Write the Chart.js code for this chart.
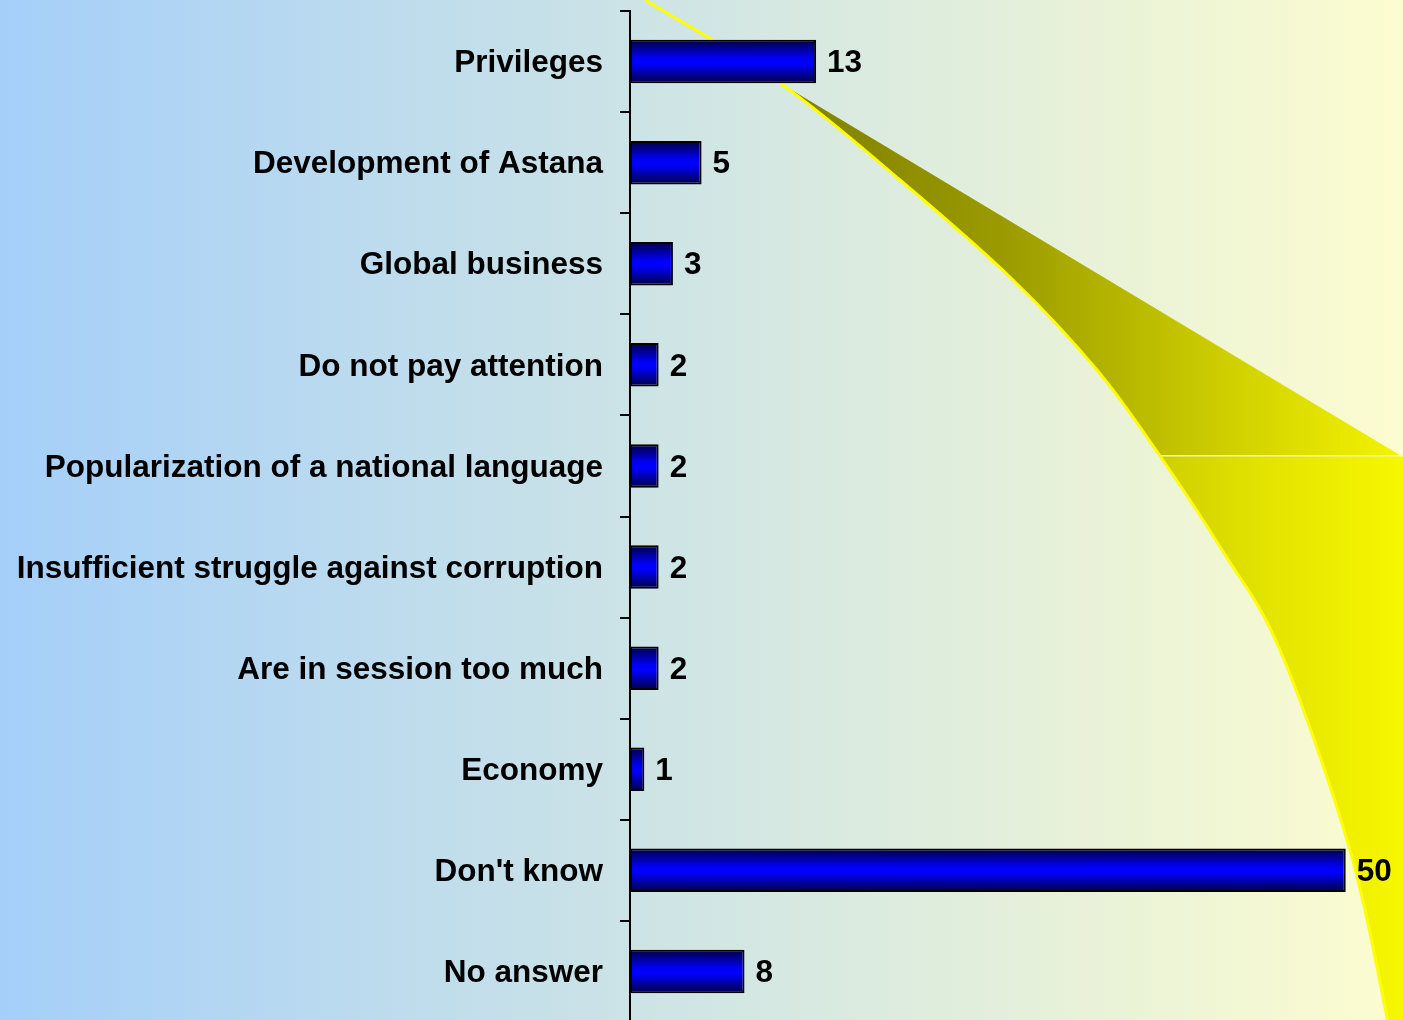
<!DOCTYPE html>
<html>
<head>
<meta charset="utf-8">
<script src="https://cdn.jsdelivr.net/npm/chart.js@4/dist/chart.umd.min.js"></script>
<style>
  html, body { margin: 0; padding: 0; overflow: hidden; background: #d0e4e8; }
  canvas { display: block; }
</style>
</head>
<body>
<canvas id="myChart" width="1403" height="1022"></canvas>
<script>
const categories = [
  "Privileges",
  "Development of Astana",
  "Global business",
  "Do not pay attention",
  "Popularization of a national language",
  "Insufficient struggle against corruption",
  "Are in session too much",
  "Economy",
  "Don't know",
  "No answer",
];
const answers = [13, 5, 3, 2, 2, 2, 2, 1, 50, 8];

const FONT = "'Liberation Sans', Arial, Helvetica, sans-serif";
const BAR_HALF = 21;

// smooth curve through points (catmull-rom -> bezier)
function curveThrough(ctx, pts) {
  ctx.lineTo(pts[0][0], pts[0][1]);
  for (let i = 0; i < pts.length - 1; i++) {
    const p0 = pts[i - 1] || pts[i];
    const p1 = pts[i];
    const p2 = pts[i + 1];
    const p3 = pts[i + 2] || p2;
    ctx.bezierCurveTo(
      p1[0] + (p2[0] - p0[0]) / 6, p1[1] + (p2[1] - p0[1]) / 6,
      p2[0] - (p3[0] - p1[0]) / 6, p2[1] - (p3[1] - p1[1]) / 6,
      p2[0], p2[1]
    );
  }
}

// background + decorative yellow ribbon
const backdrop = {
  id: "backdrop",
  beforeDraw(chart) {
    const ctx = chart.ctx;
    const w = chart.width, h = chart.height;
    ctx.save();
    const bg = ctx.createLinearGradient(0, 0, w, 0);
    bg.addColorStop(0, "#a5cff9");
    bg.addColorStop(1, "#fcfccf");
    ctx.fillStyle = bg;
    ctx.fillRect(0, 0, w, h);

    const edge = [[645, 0], [780, 83], [900, 180], [1013, 280], [1097, 370],
      [1160, 456], [1222, 550], [1280, 650], [1350, 850], [1388, 1022]];
    const split = 456;

    ctx.beginPath();
    ctx.moveTo(645, 0);
    curveThrough(ctx, edge);
    ctx.lineTo(w, h);
    ctx.lineTo(w, 457);
    ctx.lineTo(780, 83);
    ctx.closePath();
    ctx.clip();

    const top = ctx.createLinearGradient(780, 0, w, 0);
    top.addColorStop(0, "#7e7e00");
    top.addColorStop((1000 - 780) / (w - 780), "#9a9a00");
    top.addColorStop((1250 - 780) / (w - 780), "#d4d400");
    top.addColorStop(1, "#f4f400");
    ctx.fillStyle = top;
    ctx.fillRect(0, 0, w, split);

    const low = ctx.createLinearGradient(1160, 0, w, 0);
    low.addColorStop(0, "#cfcf00");
    low.addColorStop(0.4, "#e2e200");
    low.addColorStop(1, "#f7f700");
    ctx.fillStyle = low;
    ctx.fillRect(0, split, w, h - split);

    ctx.fillStyle = "#f4f4c8";
    ctx.fillRect(0, split - 1, w, 1.5);
    ctx.restore();

    ctx.save();
    ctx.beginPath();
    ctx.moveTo(645, 0);
    curveThrough(ctx, edge);
    ctx.strokeStyle = "#ffff00";
    ctx.lineWidth = 3;
    ctx.stroke();
    ctx.restore();
  },
};

// value labels at the end of bars
const valueLabels = {
  id: "valueLabels",
  afterDatasetsDraw(chart) {
    const ctx = chart.ctx;
    const meta = chart.getDatasetMeta(0);
    ctx.save();
    ctx.font = "bold 31.5px " + FONT;
    ctx.fillStyle = "#000";
    ctx.textAlign = "left";
    ctx.textBaseline = "middle";
    meta.data.forEach((bar, i) => {
      ctx.fillText(String(answers[i]), bar.x + 11, bar.y + 2);
    });
    ctx.restore();
  },
};

function barFill(context) {
  const chart = context.chart;
  const y = chart.scales.y;
  const yc = y ? y.getPixelForValue(context.dataIndex) : NaN;
  if (!isFinite(yc)) return "#0000ff";
  const g = chart.ctx.createLinearGradient(0, yc - BAR_HALF, 0, yc + BAR_HALF);
  g.addColorStop(0, "#00004a");
  g.addColorStop(0.42, "#0000f5");
  g.addColorStop(0.55, "#0000ff");
  g.addColorStop(1, "#00004a");
  return g;
}

const config = {
  type: "bar",
  data: {
    labels: categories,
    datasets: [
      {
        label: "Answers",
        data: answers,
        backgroundColor: barFill,
        borderColor: "#000000",
        borderWidth: 2,
        borderSkipped: false,
        barPercentage: 0.43,
        categoryPercentage: 1,
      },
    ],
  },
  options: {
    indexAxis: "y",
    responsive: false,
    animation: false,
    layout: { padding: { top: 11, left: 0, right: 0, bottom: 0 } },
    plugins: {
      legend: { display: false },
      tooltip: { enabled: false },
    },
    scales: {
      x: {
        display: false,
        min: 0,
        max: 54,
      },
      y: {
        afterFit(scale) {
          scale.width = 630;
          scale.paddingTop = 0;
          scale.paddingBottom = 0;
        },
        grid: {
          drawOnChartArea: false,
          drawTicks: true,
          tickLength: 10,
          color: "#000",
          lineWidth: 2,
        },
        border: { display: true, color: "#000", width: 2 },
        ticks: {
          padding: 17,
          labelOffset: 2,
          color: "#000",
          font: { family: FONT, size: 31.5, weight: "bold" },
        },
      },
    },
  },
  plugins: [backdrop, valueLabels],
};

const myChart = new Chart(document.getElementById("myChart"), config);
</script>
</body>
</html>
